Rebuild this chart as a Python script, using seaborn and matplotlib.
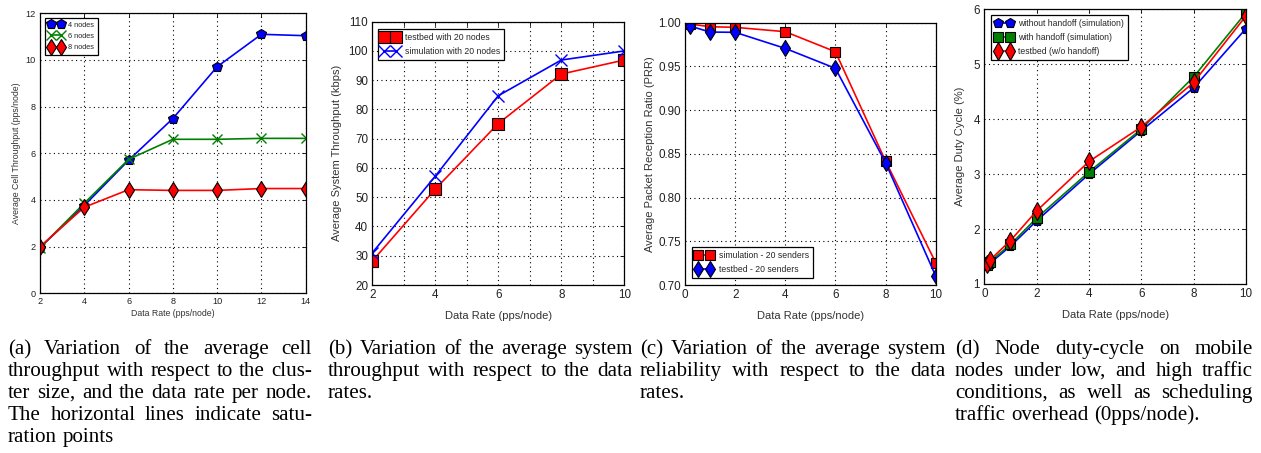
import numpy as np
import pandas as pd
import matplotlib
matplotlib.use("Agg")
import matplotlib.pyplot as plt
from matplotlib import font_manager as fm
import seaborn as sns

# ---------------- data ----------------
a_x = [2, 4, 6, 8, 10, 12, 14]
a_4nodes = [1.96, 3.76, 5.70, 7.49, 9.71, 11.10, 11.04]
a_6nodes = [1.95, 3.86, 5.74, 6.60, 6.60, 6.64, 6.64]
a_8nodes = [2.00, 3.69, 4.44, 4.41, 4.41, 4.49, 4.49]
a_labels = ["4 nodes", "6 nodes", "8 nodes"]

b_x = [2, 4, 6, 8, 10]
b_testbed = [28.2, 52.8, 75.2, 92.1, 96.9]
b_sim = [31.0, 57.2, 84.7, 96.9, 100.0]
b_labels = ["testbed with 20 nodes", "simulation with 20 nodes"]

c_x = [0.2, 1, 2, 4, 6, 8, 10]
c_sim = [0.9985, 0.9954, 0.9947, 0.9897, 0.9668, 0.8418, 0.7255]
c_testbed = [0.9962, 0.9893, 0.9890, 0.9706, 0.9478, 0.8399, 0.7103]
c_labels = ["simulation - 20 senders", "testbed - 20 senders"]

d_x = [0.1, 0.2, 1, 2, 4, 6, 8, 10]
d_without = [1.33, 1.37, 1.69, 2.15, 3.00, 3.79, 4.57, 5.65]
d_with = [1.35, 1.40, 1.72, 2.20, 3.04, 3.82, 4.77, 5.94]
d_testbed = [1.37, 1.43, 1.79, 2.33, 3.23, 3.86, 4.67, 5.88]
d_labels = ["without handoff (simulation)", "with handoff (simulation)", "testbed (w/o handoff)"]

captions = {
    "a": ["(a) Variation of the average cell",
          "throughput with respect to the clus-",
          "ter size, and the data rate per node.",
          "The horizontal lines indicate satu-",
          "ration points"],
    "b": ["(b) Variation of the average system",
          "throughput with respect to the data",
          "rates."],
    "c": ["(c) Variation of the average system",
          "reliability with respect to the data",
          "rates."],
    "d": ["(d) Node duty-cycle on mobile",
          "nodes under low, and high traffic",
          "conditions, as well as scheduling",
          "traffic overhead (0pps/node)."],
}

# ---------------- style ----------------
sns.set_theme(style="white")
available = {f.name for f in fm.fontManager.ttflist}
narrow = None
for cand in ["Liberation Sans Narrow", "Arial Narrow", "DejaVu Sans Condensed"]:
    if cand in available:
        narrow = cand
        break
if narrow is not None:
    SANS = [narrow, "Liberation Sans", "DejaVu Sans"]
    K = 1.0
else:
    SANS = ["Liberation Sans", "DejaVu Sans"]
    K = 0.84
SERIF = ["Liberation Serif", "DejaVu Serif"]
plt.rcParams["font.family"] = SANS
plt.rcParams["axes.edgecolor"] = "black"
plt.rcParams["axes.linewidth"] = 0.9

W, H = 1261, 453
fig = plt.figure(figsize=(W / 100, H / 100), dpi=100)


def make_ax(left, top, right, bottom):
    return fig.add_axes([left / W, 1 - bottom / H, (right - left) / W, (bottom - top) / H])


BLUE, GREEN, RED = "#0000ff", "#008000", "#ff0000"


def series(ax, x, y, color, marker, ms, label, mew=0.8):
    df = pd.DataFrame({"x": x, "y": y})
    sns.lineplot(data=df, x="x", y="y", ax=ax, color=color, marker=marker,
                 markersize=ms, markeredgecolor="black" if marker != "x" else color,
                 markeredgewidth=mew if marker != "x" else 1.0,
                 linewidth=1.2, label=label, sort=False, estimator=None)


def style_ax(ax, fs_tick, fs_lab, xlabel, ylabel, xpad, ypad):
    ax.grid(True, color="black", linestyle=(0, (1, 3)), linewidth=0.8)
    ax.tick_params(direction="in", length=3, width=0.6, top=True, right=True,
                   labelsize=fs_tick, pad=3, colors="black")
    for lab in ax.get_xticklabels() + ax.get_yticklabels():
        lab.set_color("#222222")
    ax.set_xlabel(xlabel, fontsize=fs_lab, labelpad=xpad, color="#333333")
    ax.set_ylabel(ylabel, fontsize=fs_lab, labelpad=ypad, color="#333333")
    for s in ax.spines.values():
        s.set_visible(True)
        s.set_color("black")


def legend(ax, loc, fs, anchor=None, spacing=0.45):
    kw = dict(loc=loc, fontsize=fs, numpoints=2, fancybox=False, edgecolor="black",
              framealpha=1, handlelength=2.0, borderpad=0.45, labelspacing=spacing,
              handletextpad=0.7)
    if anchor is not None:
        kw["bbox_to_anchor"] = anchor
    leg = ax.legend(**kw)
    leg.get_frame().set_linewidth(0.9)
    return leg


# ---------------- panel a ----------------
ax = make_ax(40, 13.3, 305.7, 293.3)
series(ax, a_x, a_4nodes, BLUE, "p", 7, a_labels[0])
series(ax, a_x, a_6nodes, GREEN, "x", 7, a_labels[1])
series(ax, a_x, a_8nodes, RED, "d", 8.5, a_labels[2])
ax.set_xlim(2, 14)
ax.set_ylim(0, 12)
ax.set_xticks(a_x)
ax.set_yticks(range(0, 13, 2))
style_ax(ax, 7.2 if narrow else 6.6, 7.2 if narrow else 6.3,
         "Data Rate (pps/node)", "Average Cell Throughput (pps/node)", 2, 3.5)
legend(ax, "upper left", 6.0 if narrow else 5.3, anchor=(0.005, 0.995), spacing=0.55)

# ---------------- panel b ----------------
ax = make_ax(372.3, 21.7, 624.3, 285)
series(ax, b_x, b_testbed, RED, "s", 8, b_labels[0])
series(ax, b_x, b_sim, BLUE, "x", 9, b_labels[1])
ax.set_xlim(2, 10)
ax.set_ylim(20, 110)
ax.set_xticks(range(2, 11))
ax.set_xticklabels([str(v) if v % 2 == 0 else "" for v in range(2, 11)])
ax.set_yticks(range(20, 111, 10))
style_ax(ax, 10 * K, 9.5 * K, "Data Rate (pps/node)", "Average System Throughput (kbps)", 7, 5)
legend(ax, "upper left", 7.4 * K, anchor=(0.005, 0.99), spacing=0.6)

# ---------------- panel c ----------------
ax = make_ax(685, 22.7, 935.7, 285)
series(ax, c_x, c_sim, RED, "s", 7, c_labels[0])
series(ax, c_x, c_testbed, BLUE, "d", 8.5, c_labels[1])
ax.set_xlim(0, 10)
ax.set_ylim(0.70, 1.00)
ax.set_xticks(range(0, 11, 2))
ax.set_yticks(np.arange(0.70, 1.001, 0.05))
ax.set_yticklabels([f"{v:.2f}" for v in np.arange(0.70, 1.001, 0.05)])
style_ax(ax, 10 * K, 9.5 * K, "Data Rate (pps/node)", "Average Packet Reception Ratio (PRR)", 7, 2)
legend(ax, "lower left", 7.4 * K, anchor=(0.01, 0.01), spacing=0.6)

# ---------------- panel d ----------------
ax = make_ax(984.3, 9.3, 1246, 284)
series(ax, d_x, d_without, BLUE, "p", 7, d_labels[0])
series(ax, d_x, d_with, GREEN, "s", 7, d_labels[1])
series(ax, d_x, d_testbed, RED, "d", 9, d_labels[2])
ax.set_xlim(0, 10)
ax.set_ylim(1, 6)
ax.set_xticks(range(0, 11, 2))
ax.set_yticks(range(1, 7))
style_ax(ax, 10 * K, 9.5 * K, "Data Rate (pps/node)", "Average Duty Cycle (%)", 7, 6)
legend(ax, "upper left", 7.4 * K, anchor=(0.01, 0.995), spacing=0.6)

# ---------------- captions (justified) ----------------
renderer = fig.canvas.get_renderer()
CAP_FS = 15.1


def paragraph(lines, x0, x1, y0, dy):
    probe1 = fig.text(0, 0, "a a", fontsize=CAP_FS, family=SERIF)
    probe2 = fig.text(0, 0, "aa", fontsize=CAP_FS, family=SERIF)
    space = probe1.get_window_extent(renderer).width - probe2.get_window_extent(renderer).width
    probe1.remove()
    probe2.remove()
    for i, line in enumerate(lines):
        words = line.split(" ")
        y = 1 - (y0 + i * dy) / H
        texts = [fig.text(0, y, w, fontsize=CAP_FS, family=SERIF, va="baseline",
                          color="black") for w in words]
        widths = [t.get_window_extent(renderer).width for t in texts]
        if i == len(lines) - 1 or len(words) == 1:
            gap = space
        else:
            gap = (x1 - x0 - sum(widths)) / (len(words) - 1)
        x = x0
        for t, w in zip(texts, widths):
            t.set_x(x / W)
            x += w + gap


paragraph(captions["a"], 8, 312, 354, 22)
paragraph(captions["b"], 328, 633, 354, 22)
paragraph(captions["c"], 640, 946, 354, 22)
paragraph(captions["d"], 955, 1253, 354, 22)

fig.savefig("out.png", dpi=100)
